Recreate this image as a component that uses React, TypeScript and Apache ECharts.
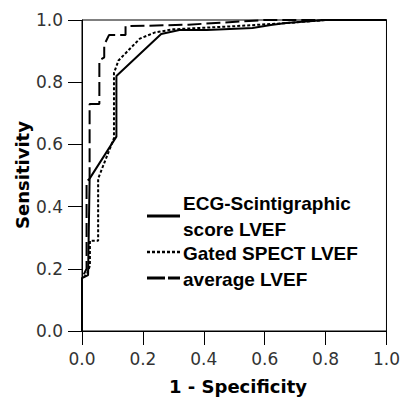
import React, { useEffect, useRef } from "react";
import * as echarts from "echarts";

const xTicks = [0, 0.2, 0.4, 0.6, 0.8, 1.0];

const ecgX = [0, 0, 0.02, 0.025, 0.113, 0.113, 0.26, 0.32, 0.41, 0.56, 0.62, 0.67, 0.8, 1];
const ecgY = [0, 0.17, 0.18, 0.49, 0.625, 0.82, 0.955, 0.968, 0.968, 0.974, 0.984, 0.99, 1, 1];

const gatedX = [0, 0, 0.015, 0.026, 0.026, 0.053, 0.053, 0.105, 0.105, 0.12, 0.155, 0.19, 0.24, 0.3, 0.5, 0.67, 0.8, 1];
const gatedY = [0, 0.17, 0.18, 0.21, 0.29, 0.29, 0.49, 0.62, 0.83, 0.87, 0.905, 0.94, 0.96, 0.97, 0.98, 0.99, 1, 1];

const avgX = [0, 0, 0.015, 0.015, 0.025, 0.025, 0.057, 0.057, 0.073, 0.073, 0.089, 0.143, 0.143, 0.35, 0.6, 1];
const avgY = [0, 0.17, 0.2, 0.48, 0.49, 0.73, 0.73, 0.87, 0.88, 0.92, 0.952, 0.952, 0.98, 0.985, 1, 1];

const seriesNames = ["ECG-Scintigraphic\nscore LVEF", "Gated SPECT LVEF", "average LVEF"];

const zip = (xs: number[], ys: number[]) => xs.map((x, i) => [x, ys[i]]);

export default function App() {
  const ref = useRef<HTMLDivElement>(null);
  useEffect(() => {
    if (!ref.current) return;
    const chart = echarts.init(ref.current, undefined, { renderer: "svg" });
    const labelStyle = { fontFamily: "DejaVu Sans", fontSize: 17, color: "#333" };
    const legendFont = { fontFamily: "Liberation Sans", fontWeight: "bold" as const, fontSize: 19, fill: "#000" };
    chart.setOption({
      animation: false,
      backgroundColor: "#fff",
      grid: { left: 82, top: 20, right: 11, bottom: 66, show: true, borderColor: "#000", borderWidth: 1 },
      xAxis: {
        type: "value",
        min: 0,
        max: 1,
        interval: 0.2,
        axisLine: { show: true, lineStyle: { color: "#000", width: 1 } },
        axisTick: { show: true, length: 14, lineStyle: { color: "#000" } },
        axisLabel: { ...labelStyle, margin: 19, formatter: (v: number) => v.toFixed(1) },
        splitLine: { show: false },
      },
      yAxis: {
        type: "value",
        min: 0,
        max: 1,
        interval: 0.2,
        axisLine: { show: true, lineStyle: { color: "#000", width: 1 } },
        axisTick: { show: true, length: 14, lineStyle: { color: "#000" } },
        axisLabel: { ...labelStyle, margin: 19, formatter: (v: number) => v.toFixed(1) },
        splitLine: { show: false },
      },
      series: [
        {
          name: seriesNames[2],
          type: "line",
          data: zip(avgX, avgY),
          showSymbol: false,
          symbol: "none",
          lineStyle: { color: "#000", width: 2, type: [14, 5] },
          z: 2,
        },
        {
          name: seriesNames[1],
          type: "line",
          data: zip(gatedX, gatedY),
          showSymbol: false,
          symbol: "none",
          lineStyle: { color: "#000", width: 2, type: [3, 2] },
          z: 3,
        },
        {
          name: seriesNames[0],
          type: "line",
          data: zip(ecgX, ecgY),
          showSymbol: false,
          symbol: "none",
          lineStyle: { color: "#000", width: 2, type: "solid" },
          z: 4,
        },
      ],
      graphic: [
        {
          type: "text",
          x: 22,
          y: 175,
          rotation: Math.PI / 2,
          style: { text: "Sensitivity", fontFamily: "DejaVu Sans", fontWeight: "bold", fontSize: 18, fill: "#000", align: "center", verticalAlign: "middle" },
        },
        {
          type: "text",
          x: 238,
          y: 386,
          style: { text: "1 - Specificity", fontFamily: "DejaVu Sans", fontWeight: "bold", fontSize: 18, fill: "#000", align: "center", verticalAlign: "middle" },
        },
        { type: "line", shape: { x1: 147, y1: 216, x2: 180, y2: 216 }, style: { stroke: "#000", lineWidth: 3 } },
        { type: "line", shape: { x1: 147, y1: 252, x2: 180, y2: 252 }, style: { stroke: "#000", lineWidth: 2.5, lineDash: [3, 2] } },
        { type: "line", shape: { x1: 147, y1: 278, x2: 180, y2: 278 }, style: { stroke: "#000", lineWidth: 3, lineDash: [18, 3] } },
        { type: "text", x: 183, y: 203, style: { text: "ECG-Scintigraphic", ...legendFont, verticalAlign: "middle" } },
        { type: "text", x: 183, y: 229, style: { text: "score LVEF", ...legendFont, verticalAlign: "middle" } },
        { type: "text", x: 183, y: 253, style: { text: "Gated SPECT LVEF", ...legendFont, verticalAlign: "middle" } },
        { type: "text", x: 183, y: 279, style: { text: "average LVEF", ...legendFont, verticalAlign: "middle" } },
      ],
    });
    return () => chart.dispose();
  }, []);
  return <div ref={ref} style={{ position: "fixed", left: 0, top: 0, width: 403, height: 397 }} />;
}
